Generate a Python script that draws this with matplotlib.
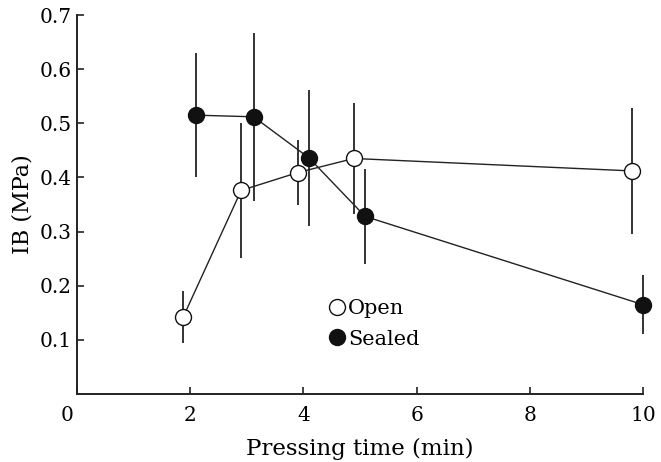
import matplotlib
matplotlib.use("Agg")
import matplotlib.pyplot as plt
from matplotlib.lines import Line2D
import matplotlib.transforms as mtransforms

open_x = [1.88, 2.90, 3.90, 4.89, 9.81]
open_y = [0.143, 0.376, 0.409, 0.435, 0.412]
open_err = [0.048, 0.125, 0.060, 0.102, 0.116]

sealed_x = [2.10, 3.12, 4.10, 5.09, 10.0]
sealed_y = [0.515, 0.512, 0.436, 0.328, 0.165]
sealed_err = [0.114, 0.155, 0.126, 0.088, 0.055]

xticks = [0, 2, 4, 6, 8, 10]
yticks = [0.1, 0.2, 0.3, 0.4, 0.5, 0.6, 0.7]

plt.rcParams['font.family'] = ['DejaVu Serif']
fig = plt.figure(figsize=(6.61, 4.62), dpi=100)
ax = fig.add_axes([0.1165, 0.1472, 0.9728 - 0.1165, 0.9675 - 0.1472])

ms = 11.5
for xs, ys, es, fc in [(open_x, open_y, open_err, 'white'), (sealed_x, sealed_y, sealed_err, '#111111')]:
    ax.errorbar(xs, ys, yerr=es, fmt='none', ecolor='#333333', elinewidth=1.4, capsize=0, clip_on=False, zorder=2)
    ax.plot(xs, ys, '-', color='#222222', lw=1.0, zorder=3, clip_on=False)
    ax.plot(xs, ys, 'o', ms=ms, mfc=fc, mec='#111111', mew=1.0, zorder=4, clip_on=False, linestyle='none')

ax.set_xlim(0, 10)
ax.set_ylim(0, 0.7)
ax.set_xticks(xticks)
ax.set_xticklabels([str(t) for t in xticks])
ax.set_yticks(yticks)
ax.set_yticklabels([f"{t:.1f}" for t in yticks])
ax.tick_params(direction='in', length=5, width=1.2, labelsize=14.5, color='#222222')
ax.tick_params(axis='x', pad=9)
ax.tick_params(axis='y', pad=4)
# shift the "0" label left like the origin label in the reference
lbl0 = ax.get_xticklabels()[0]
lbl0.set_transform(lbl0.get_transform() + mtransforms.ScaledTranslation(-10/100, 0, fig.dpi_scale_trans))

for s in ['top', 'right']:
    ax.spines[s].set_visible(False)
for s in ['left', 'bottom']:
    ax.spines[s].set_linewidth(1.4)
    ax.spines[s].set_color('#222222')

ax.set_xlabel('Pressing time (min)', fontsize=16.5, labelpad=9)
ax.set_ylabel('IB (MPa)', fontsize=16, labelpad=4)

handles = [
    Line2D([], [], marker='o', ls='none', ms=ms, mfc='white', mec='#111111', mew=1.0),
    Line2D([], [], marker='o', ls='none', ms=ms, mfc='#111111', mec='#111111', mew=1.0),
]
ax.legend(handles, ['Open', 'Sealed'], loc='center left', bbox_to_anchor=(0.415, 0.185),
          frameon=False, fontsize=15, handlelength=0.6, handletextpad=0.25, labelspacing=0.55)

fig.savefig('out.png', dpi=100)
